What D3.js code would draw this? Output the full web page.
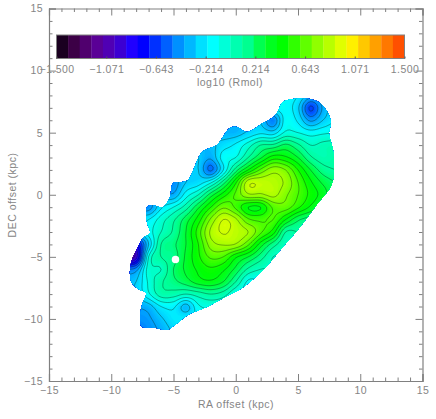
<!DOCTYPE html>
<html>
<head>
<meta charset="utf-8">
<script src="https://cdn.jsdelivr.net/npm/d3@7"></script>
<style>
  body { margin: 0; background: #fff; }
  text { font-family: "Liberation Sans", sans-serif; fill: #858585; }
</style>
</head>
<body>
<svg id="chart" width="436" height="419"></svg>
<script>
// log10(Rmol), one row per kpc in DEC (8 down to -11), one column per kpc in RA (-9 to 8)
var raValues = [-9,-8,-7,-6,-5,-4,-3,-2,-1,0,1,2,3,4,5,6,7,8];
var decValues = [8,7,6,5,4,3,2,1,0,-1,-2,-3,-4,-5,-6,-7,-8,-9,-10,-11];
var rmolGrid = [
  [-.3,-.3,-.3,-.3,-.3,-.3,-.3,-.3,-.3,-.3,-.2,-.2,-.15,-.15,-.2,-.35,-.3,-.25],
  [-.3,-.3,-.3,-.3,-.3,-.3,-.3,-.3,-.3,-.3,-.25,-.22,-.18,-.15,-.28,-.62,-.38,-.22],
  [-.3,-.3,-.3,-.3,-.3,-.3,-.3,-.3,-.3,-.35,-.3,-.3,-.48,-.15,-.22,-.42,-.3,-.2],
  [-.3,-.3,-.3,-.3,-.3,-.3,-.3,-.3,-.35,-.35,-.28,-.22,-.25,-.08,-.1,-.15,-.12,-.1],
  [-.3,-.3,-.3,-.3,-.3,-.3,-.35,-.33,-.25,-.18,-.05,.1,.12,.22,.12,0,.03,.05],
  [-.3,-.3,-.3,-.3,-.3,-.3,-.3,-.38,-.15,-.1,.1,.28,.45,.42,.3,.12,.05,.08],
  [-.35,-.35,-.35,-.35,-.35,-.3,-.3,-.52,-.2,.15,.4,.62,.76,.7,.5,.3,.15,.1],
  [-.4,-.4,-.4,-.4,-.45,-.3,-.25,-.12,.15,.48,.86,.87,.84,.78,.6,.42,.28,.2],
  [-.35,-.35,-.35,-.35,-.38,-.15,0,.25,.45,.62,.78,.78,.83,.72,.6,.47,.35,.2],
  [-.4,-.4,-.45,-.22,-.1,.05,.28,.5,.68,.58,.4,.4,.62,.65,.52,.38,.25,.15],
  [-.3,-.25,-.2,-.05,.08,.25,.45,.72,.9,.82,.62,.58,.6,.4,.22,.15,.1,.1],
  [-.4,-.3,-.15,0,.12,.3,.55,.82,.91,.86,.8,.62,.45,.1,.1,.1,.1,.1],
  [-.9,-.8,-.3,.1,.18,.3,.5,.75,.81,.79,.62,.35,.15,.02,.05,.05,.05,.05],
  [-1.1,-.95,-.1,.1,.15,.32,.48,.62,.6,.42,.3,.15,0,0,0,0,0,0],
  [-.5,-.45,-.05,0,.2,.32,.42,.48,.42,.27,.08,0,0,0,0,0,0,0],
  [-.35,-.3,-.08,.08,.17,.25,.35,.38,.3,.1,-.12,-.1,-.1,-.1,-.1,-.1,-.1,-.1],
  [-.35,-.3,-.12,.05,.05,0,.05,.1,.05,-.1,-.15,-.15,-.15,-.15,-.15,-.15,-.15,-.15],
  [-.45,-.4,-.35,-.2,-.18,-.34,-.12,-.08,-.1,-.15,-.15,-.15,-.15,-.15,-.15,-.15,-.15,-.15],
  [-.5,-.45,-.42,-.32,-.22,-.2,-.18,-.15,-.15,-.15,-.15,-.15,-.15,-.15,-.15,-.15,-.15,-.15],
  [-.5,-.5,-.45,-.38,-.28,-.22,-.18,-.15,-.15,-.15,-.15,-.15,-.15,-.15,-.15,-.15,-.15,-.15]
];

// edge of the mapped area, and the small hole in it
var edgeRa = [3.79,4.59,5.96,6.76,7.41,7.65,7.49,7.81,7.89,7.81,7.57,6.6,5.16,3.71,2.35,.5,-.87,-2.47,-3.84,-4.88,-5.53,-6.49,-7.53,-7.69,-7.53,-7.21,-7.69,-8.34,-8.5,-8.34,-7.85,-7.45,-6.89,-7.13,-7.13,-6.73,-5.85,-5.29,-5.04,-4.32,-3.84,-2.71,-2.07,-1.51,-.47,.1,.9,2.18,2.91,3.31];
var edgeDec = [7.47,7.71,7.71,7.39,6.59,5.78,4.98,3.61,2.24,1.19,.55,-.66,-2.59,-4.28,-5.89,-7.5,-8.23,-9.11,-9.68,-10.48,-10.89,-10.72,-10.64,-9.92,-8.87,-7.91,-7.67,-7.1,-6.3,-5.25,-4.2,-3.48,-3.08,-2.19,-.98,-.82,-.98,-.18,.95,1.03,1.19,3.45,3.77,4.01,5.38,5.46,5.06,5.78,6.18,6.59];
var holeRa = -4.84, holeDec = -5.21, holeR = 0.3;

// colour bar cells, -1.5 to 1.5 in steps of 0.1
var barColors = ["#1a0020","#3c0046","#50006e","#5a0096","#5000b4","#3c00d2","#2000ff","#0000ff","#0030ff","#0060ff",
  "#0090ff","#00b8ff","#00e0ff","#00ffff","#00ffd8","#00ffb0","#00ff90","#00ff50","#00ff20","#00ff00",
  "#30ff00","#60ff00","#90ff00","#b8ff00","#e0ff00","#fff000","#ffc800","#ffa000","#ff7800","#ff5000"];
var barTicks = [-1.5,-1.071,-0.643,-0.214,0.214,0.643,1.071,1.5];
var majorTicks = [-15,-10,-5,0,5,10,15];
var minorTicks = d3.range(-15, 16).filter(d => d % 5 != 0);

var svg = d3.select("#chart");
var x = d3.scaleLinear().domain([-15, 15]).range([49, 422.5]);
var y = d3.scaleLinear().domain([-15, 15]).range([381, 8.5]);
var grey = "#808080";

// colour for a value, running through the middle of each bar cell
var colorAt = d3.scaleLinear()
    .domain(barColors.map((c, i) => -1.45 + i * 0.1))
    .range(barColors)
    .clamp(true);

// smooth the 1 kpc table onto a finer one so the contours come out round
var sub = 6;
var nx = (raValues.length - 1) * sub + 1,
    ny = (decValues.length - 1) * sub + 1;

function cubic(a, b, c, d, t) {
    return b + 0.5 * t * (c - a + t * (2 * a - 5 * b + 4 * c - d + t * (3 * (b - c) + d - a)));
}
function cell(r, c) {
    r = Math.max(0, Math.min(decValues.length - 1, r));
    c = Math.max(0, Math.min(raValues.length - 1, c));
    return rmolGrid[r][c];
}
var fine = new Array(nx * ny);
for (var j = 0; j < ny; j++) {
    var r0 = Math.floor(j / sub), tr = j / sub - r0;
    for (var i = 0; i < nx; i++) {
        var c0 = Math.floor(i / sub), tc = i / sub - c0;
        var rows = [-1, 0, 1, 2].map(k => cubic(cell(r0 + k, c0 - 1), cell(r0 + k, c0), cell(r0 + k, c0 + 1), cell(r0 + k, c0 + 2), tc));
        fine[j * nx + i] = cubic(rows[0], rows[1], rows[2], rows[3], tr);
    }
}

var toPixels = d3.geoTransform({
    point: function (px, py) {
        this.stream.point(x(raValues[0] + (px - 0.5) / sub), y(decValues[0] - (py - 0.5) / sub));
    }
});
var path = d3.geoPath(toPixels);

var edgeLine = d3.line()
    .x(d => x(d[0]))
    .y(d => y(d[1]))
    .curve(d3.curveCatmullRomClosed);

svg.append("clipPath").attr("id", "edge")
    .append("path")
    .attr("d", edgeLine(edgeRa.map((d, i) => [d, edgeDec[i]])));

var map = svg.append("g").attr("clip-path", "url(#edge)");

var fillLevels = d3.range(-150, 150, 2.5).map(d => d / 100);
map.append("g").selectAll("path")
    .data(d3.contours().size([nx, ny]).thresholds(fillLevels)(fine))
    .enter()
    .append("path")
    .attr("d", path)
    .attr("fill", d => colorAt(d.value + 0.0125))
    .attr("stroke", d => colorAt(d.value + 0.0125))
    .attr("stroke-width", 0.3);

var lineLevels = d3.range(-15, 15).map(d => d / 10);
map.append("g").selectAll("path")
    .data(d3.contours().size([nx, ny]).thresholds(lineLevels)(fine))
    .enter()
    .append("path")
    .attr("d", path)
    .attr("fill", "none")
    .attr("stroke", "#0a2a14")
    .attr("stroke-opacity", 0.65)
    .attr("stroke-width", 0.6);

svg.append("circle")
    .attr("cx", x(holeRa))
    .attr("cy", y(holeDec))
    .attr("r", x(holeRa + holeR) - x(holeRa))
    .attr("fill", "#fff");

// frame: long ticks every 5 kpc, short ones every 1 kpc, on all four sides
function drawAxis(axis, pos, minor, labelled) {
    var g = svg.append("g").attr("transform", pos);
    g.call(axis.tickValues(majorTicks).tickSize(-7).tickPadding(labelled ? 6 : 0)
        .tickFormat(labelled ? d3.format("d") : ""));
    g.selectAll("text").attr("font-size", 10.5).style("letter-spacing", "0.4px");
    g.selectAll("line").attr("stroke", grey);
    g.select(".domain").attr("stroke", grey).attr("stroke-width", 1.2);
    var g2 = svg.append("g").attr("transform", pos);
    g2.call(minor.tickValues(minorTicks).tickSize(-3.5).tickFormat(""));
    g2.selectAll("line").attr("stroke", grey);
    g2.select(".domain").remove();
}
drawAxis(d3.axisBottom(x), "translate(0,381)", d3.axisBottom(x), true);
drawAxis(d3.axisLeft(y), "translate(49,0)", d3.axisLeft(y), true);
drawAxis(d3.axisTop(x), "translate(0,8.5)", d3.axisTop(x), false);
drawAxis(d3.axisRight(y), "translate(422.5,0)", d3.axisRight(y), false);

svg.append("text")
    .attr("x", 236)
    .attr("y", 408)
    .attr("text-anchor", "middle")
    .attr("font-size", 10.5)
    .style("letter-spacing", "0.5px")
    .text("RA offset (kpc)");

svg.append("text")
    .attr("transform", "translate(16,195) rotate(-90)")
    .attr("text-anchor", "middle")
    .attr("font-size", 10.5)
    .style("letter-spacing", "0.5px")
    .text("DEC offset (kpc)");

// colour bar
var barX = d3.scaleLinear().domain([-1.5, 1.5]).range([56.5, 404.5]);
var barTop = 35, barBottom = 58.5;

svg.append("g").selectAll("rect")
    .data(barColors)
    .enter()
    .append("rect")
    .attr("x", (d, i) => barX(-1.5 + i * 0.1))
    .attr("y", barTop)
    .attr("width", barX(-1.4) - barX(-1.5) + 0.3)
    .attr("height", barBottom - barTop)
    .attr("fill", d => d);

svg.append("rect")
    .attr("x", barX(-1.5))
    .attr("y", barTop)
    .attr("width", barX(1.5) - barX(-1.5))
    .attr("height", barBottom - barTop)
    .attr("fill", "none")
    .attr("stroke", grey);

var barAxis = svg.append("g")
    .attr("transform", "translate(0," + barBottom + ")")
    .call(d3.axisBottom(barX).tickValues(barTicks).tickSize(-2).tickPadding(7).tickFormat(d3.format(".3f")));
barAxis.selectAll("text").attr("font-size", 10.5).style("letter-spacing", "0.4px");
barAxis.selectAll("line").attr("stroke", "#555");
barAxis.select(".domain").remove();

svg.append("text")
    .attr("x", 230)
    .attr("y", 86)
    .attr("text-anchor", "middle")
    .attr("font-size", 10.5)
    .style("letter-spacing", "0.5px")
    .text("log10 (Rmol)");
</script>
</body>
</html>
